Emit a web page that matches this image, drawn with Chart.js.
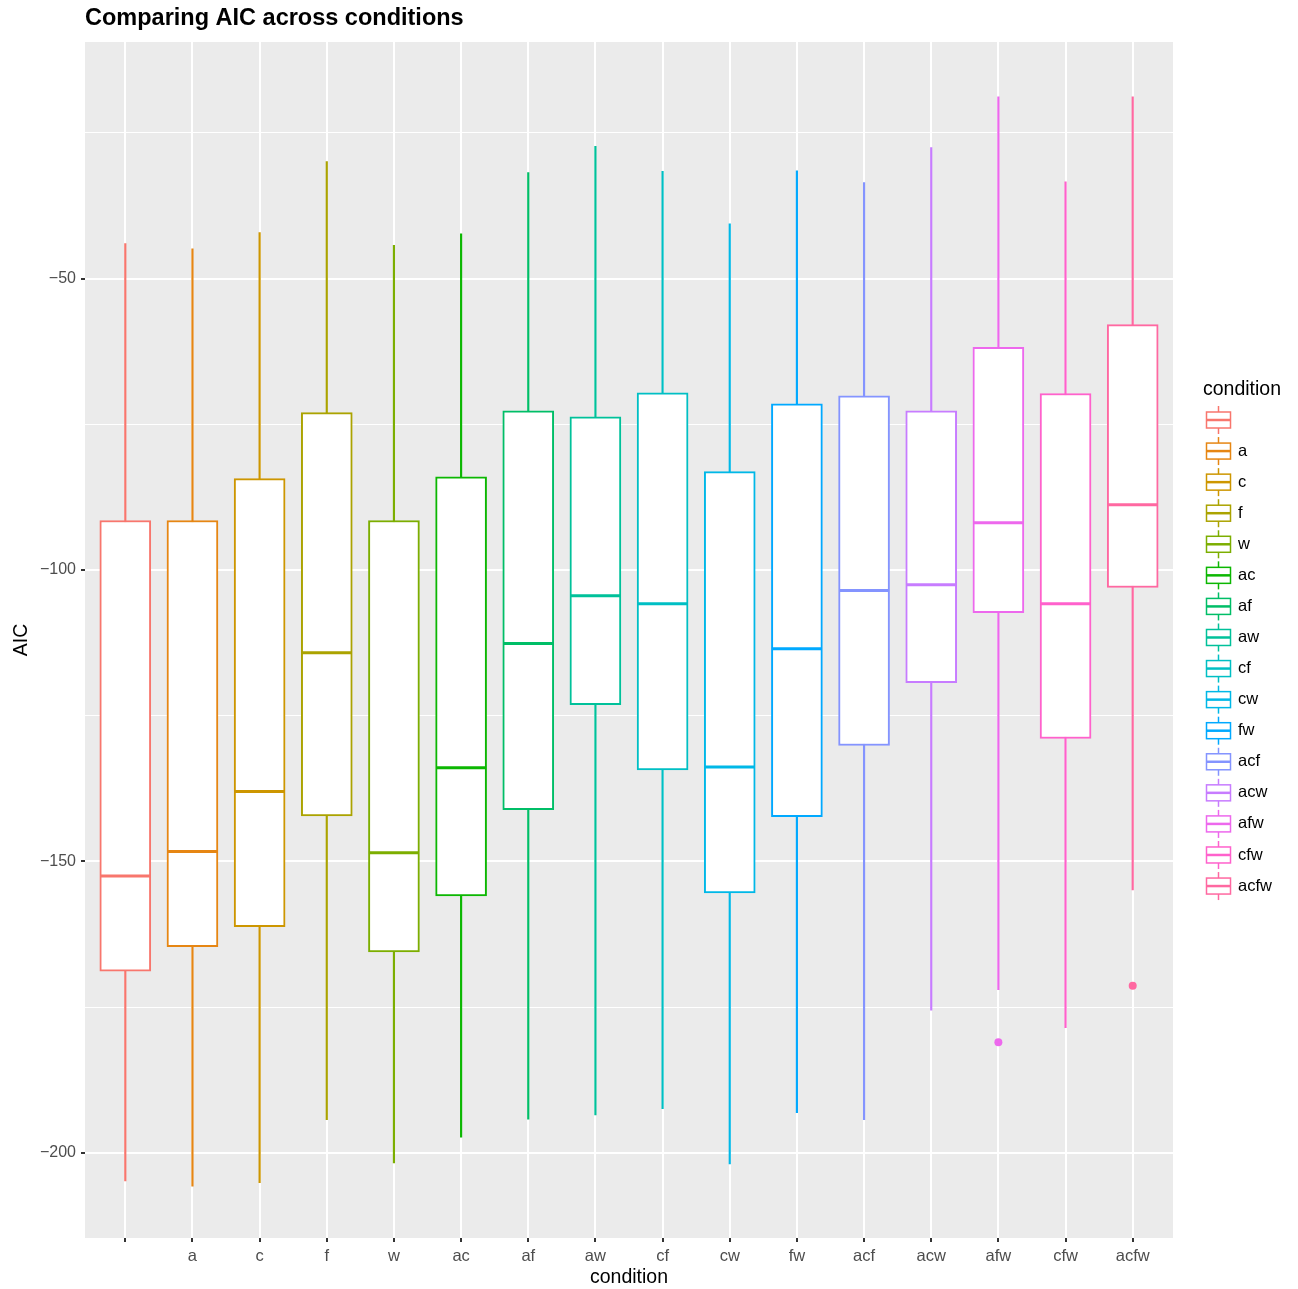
<!DOCTYPE html>
<html>
<head>
<meta charset="utf-8">
<title>Comparing AIC across conditions</title>
<script src="https://cdn.jsdelivr.net/npm/chart.js@4.4.0/dist/chart.umd.min.js"></script>
<style>
    html, body { margin: 0; padding: 0; background: #ffffff; }
    #wrap { width: 1298px; height: 1289px; position: relative; }
</style>
</head>
<body>
<div id="wrap"><canvas id="chartCanvas"></canvas></div>
<script>
// values
const categories = ['', 'a', 'c', 'f', 'w', 'ac', 'af', 'aw', 'cf', 'cw', 'fw', 'acf', 'acw', 'afw', 'cfw', 'acfw'];
const whiskerHigh = [-44.0, -44.9, -42.1, -29.9, -44.3, -42.3, -31.8, -27.3, -31.6, -40.6, -31.5, -33.5, -27.5, -18.8, -33.4, -18.8];
const upperQuartile = [-91.5, -91.5, -84.3, -73.0, -91.5, -84.0, -72.7, -73.7, -69.6, -83.1, -71.5, -70.1, -72.7, -61.8, -69.7, -57.9];
const medians = [-152.5, -148.3, -138.0, -114.2, -148.5, -133.9, -112.6, -104.4, -105.8, -133.8, -113.5, -103.5, -102.5, -91.9, -105.8, -88.8];
const lowerQuartile = [-168.8, -164.6, -161.2, -142.2, -165.5, -155.9, -141.1, -123.1, -134.3, -155.4, -142.3, -130.1, -119.3, -107.3, -128.9, -103.0];
const whiskerLow = [-204.8, -205.7, -205.1, -194.3, -201.7, -197.3, -194.2, -193.5, -192.4, -201.9, -193.1, -194.3, -175.5, -172.0, -178.5, -154.9];
const outlierCategory = [13, 15];
const outlierValue = [-181.0, -171.3];
const conditionColors = ['#F8766D', '#E68613', '#CD9600', '#ABA300', '#7CAE00', '#0CB702', '#00BE67', '#00C19A',
    '#00BFC4', '#00B8E7', '#00A9FF', '#8494FF', '#C77CFF', '#ED68ED', '#FF61CC', '#FF68A1'];
const yTickValues = [-200, -175, -150, -125, -100, -75, -50, -25];

const FONT = '"Liberation Sans", Arial, Helvetica, sans-serif';
Chart.defaults.font.family = FONT;

const panelBackground = {
    id: 'panelBackground',
    beforeDraw(chart) {
        const { ctx, chartArea: a } = chart;
        ctx.save();
        ctx.fillStyle = '#EBEBEB';
        ctx.fillRect(a.left, a.top, a.right - a.left, a.bottom - a.top);
        ctx.restore();
    }
};

// ggplot style title and boxplot legend keys
const titleAndLegend = {
    id: 'titleAndLegend',
    afterDraw(chart) {
        const { ctx, chartArea } = chart;
        ctx.save();
        ctx.fillStyle = '#000000';
        ctx.textBaseline = 'middle';
        ctx.textAlign = 'left';
        ctx.font = 'bold 23.5px ' + FONT;
        ctx.fillText('Comparing AIC across conditions', chartArea.left, 19);

        const lx = chartArea.right + 30;
        ctx.font = '19.5px ' + FONT;
        ctx.fillText('condition', lx, 390);

        categories.forEach((name, i) => {
            const cy = 420 + i * 31.07;
            const cx = lx + 15.5;
            ctx.strokeStyle = conditionColors[i];
            ctx.lineWidth = 1.5;
            ctx.beginPath();
            ctx.moveTo(cx, cy - 14);
            ctx.lineTo(cx, cy + 14);
            ctx.stroke();
            ctx.fillStyle = '#ffffff';
            ctx.fillRect(cx - 12, cy - 8, 24, 16);
            ctx.strokeRect(cx - 12, cy - 8, 24, 16);
            ctx.lineWidth = 2.5;
            ctx.beginPath();
            ctx.moveTo(cx - 12, cy);
            ctx.lineTo(cx + 12, cy);
            ctx.stroke();
            ctx.fillStyle = '#000000';
            ctx.font = '16.5px ' + FONT;
            ctx.fillText(name, lx + 35, cy);
        });
        ctx.restore();
    }
};

const ctx = document.getElementById('chartCanvas').getContext('2d');

new Chart(ctx, {
    type: 'bar',
    data: {
        datasets: [
            {
                type: 'scatter',
                label: 'median',
                data: categories.map((c, i) => ({ x: i, y: medians[i] })),
                pointStyle: 'line',
                pointRadius: 25,
                pointBorderWidth: 3,
                pointBorderColor: conditionColors,
                pointBackgroundColor: conditionColors,
                showLine: false,
                order: 0
            },
            {
                type: 'scatter',
                label: 'outliers',
                data: outlierCategory.map((c, i) => ({ x: c, y: outlierValue[i] })),
                pointStyle: 'circle',
                pointRadius: 4,
                pointBorderWidth: 0,
                pointBackgroundColor: outlierCategory.map(c => conditionColors[c]),
                showLine: false,
                order: 0
            },
            {
                label: 'box',
                data: categories.map((c, i) => ({ x: i, y: [lowerQuartile[i], upperQuartile[i]] })),
                backgroundColor: '#ffffff',
                borderColor: conditionColors,
                borderWidth: 2,
                borderSkipped: false,
                barThickness: 51,
                grouped: false,
                order: 1
            },
            {
                label: 'whisker',
                data: categories.map((c, i) => ({ x: i, y: [whiskerLow[i], whiskerHigh[i]] })),
                backgroundColor: conditionColors,
                borderWidth: 0,
                barThickness: 1.5,
                grouped: false,
                order: 2
            }
        ]
    },
    options: {
        responsive: true,
        maintainAspectRatio: false,
        animation: false,
        layout: { padding: { top: 42, right: 125, left: 0, bottom: 0 } },
        plugins: {
            legend: { display: false },
            tooltip: { enabled: false },
            title: { display: false }
        },
        scales: {
            x: {
                type: 'linear',
                min: -0.6,
                max: 15.6,
                offset: false,
                afterBuildTicks: s => { s.ticks = categories.map((c, i) => ({ value: i })); },
                afterFit: s => { s.height = 51; },
                ticks: {
                    callback: v => categories[v],
                    color: '#4D4D4D',
                    font: { size: 16.5 },
                    padding: 5,
                    maxRotation: 0,
                    autoSkip: false
                },
                grid: { color: '#FFFFFF', lineWidth: 2, tickLength: 4, tickColor: '#333333', offset: false },
                border: { display: false },
                title: { display: true, text: 'condition', color: '#000000', font: { size: 19.5 }, padding: { top: 0, bottom: 0 } }
            },
            y: {
                min: -214.6,
                max: -9.4,
                afterBuildTicks: s => { s.ticks = yTickValues.map(v => ({ value: v })); },
                afterFit: s => { s.width = 85; },
                ticks: {
                    callback: v => (v % 50 === 0 ? String(v).replace('-', '\u2212') : ''),
                    color: '#4D4D4D',
                    font: { size: 16 },
                    padding: 5,
                    autoSkip: false
                },
                grid: {
                    color: '#FFFFFF',
                    lineWidth: c => (c.tick && c.tick.value % 50 === 0 ? 2 : 1),
                    tickColor: c => (c.tick && c.tick.value % 50 === 0 ? '#333333' : 'rgba(0,0,0,0)'),
                    tickLength: 4
                },
                border: { display: false },
                title: { display: true, text: 'AIC', color: '#000000', font: { size: 19.5 }, padding: { top: 10, bottom: 0 } }
            }
        }
    },
    plugins: [panelBackground, titleAndLegend]
});
</script>
</body>
</html>
